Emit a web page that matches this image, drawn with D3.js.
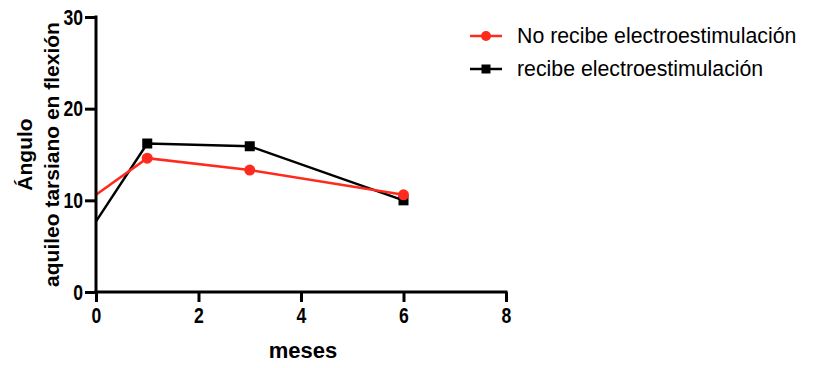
<!DOCTYPE html>
<html>
<head>
<meta charset="utf-8">
<script src="https://cdn.jsdelivr.net/npm/d3@7"></script>
<style>
  html, body { margin: 0; padding: 0; background: #fff; }
  svg { display: block; font-family: "Liberation Sans", Arial, Helvetica, sans-serif; }
</style>
</head>
<body>
<svg id="chart" width="814" height="368"></svg>
<script>
// Months of follow-up
const meses = [0, 1, 3, 6];
// Achilles–tarsal flexion angle per group
const noRecibe = [10.6, 14.6, 13.3, 10.6];
const recibe = [7.7, 16.2, 15.9, 10.0];
const seriesNames = ["No recibe electroestimulación", "recibe electroestimulación"];
const xTicks = [0, 2, 4, 6, 8];
const yTicks = [0, 10, 20, 30];

const RED = "#ff2a1e";
const BLACK = "#000";

const svg = d3.select("#chart");
const margin = { left: 96, top: 17, right: 308, bottom: 76 };
const W = 814, H = 368;

const x = d3.scaleLinear().domain([0, 8]).range([margin.left, W - margin.right]);
const y = d3.scaleLinear().domain([0, 30]).range([H - margin.bottom, margin.top]);

const series = [
  { name: seriesNames[0], values: noRecibe, color: RED, shape: "circle" },
  { name: seriesNames[1], values: recibe, color: BLACK, shape: "square" }
];

// clip the data to the plotting area (right of the y axis)
svg.append("defs").append("clipPath").attr("id", "plot")
  .append("rect")
  .attr("x", margin.left).attr("y", 0)
  .attr("width", W - margin.right - margin.left + 20)
  .attr("height", H - margin.bottom);

const line = d3.line().x((d, i) => x(meses[i])).y(d => y(d));

const plot = svg.append("g").attr("clip-path", "url(#plot)");

function drawMarker(g, shape, cx, cy, size, color) {
  if (shape === "circle") {
    g.append("circle").attr("cx", cx).attr("cy", cy).attr("r", size).attr("fill", color);
  } else {
    g.append("rect").attr("x", cx - size).attr("y", cy - size)
      .attr("width", size * 2).attr("height", size * 2).attr("fill", color);
  }
}

// draw black group first, red on top
[series[1], series[0]].forEach(s => {
  plot.append("path").datum(s.values)
    .attr("d", line)
    .attr("fill", "none")
    .attr("stroke", s.color)
    .attr("stroke-width", 2.5)
    .attr("stroke-linejoin", "miter");
});
[series[1], series[0]].forEach(s => {
  // the baseline reading sits on the axis, its marker is hidden behind it
  s.values.forEach((v, i) => {
    if (meses[i] === 0) return;
    drawMarker(plot, s.shape, x(meses[i]), y(v), s.shape === "circle" ? 5.5 : 5, s.color);
  });
});

// axes
const xAxis = svg.append("g")
  .attr("transform", `translate(0,${y(0)})`)
  .call(d3.axisBottom(x).tickValues(xTicks).tickSize(10).tickPadding(5).tickFormat(d3.format("d")));
const yAxis = svg.append("g")
  .attr("transform", `translate(${x(0)},0)`)
  .call(d3.axisLeft(y).tickValues(yTicks).tickSize(11).tickPadding(2).tickFormat(d3.format("d")));

[xAxis, yAxis].forEach(a => {
  a.select(".domain").attr("stroke", BLACK).attr("stroke-width", 3).attr("stroke-linecap", "square");
  a.selectAll(".tick line").attr("stroke", BLACK).attr("stroke-width", 3);
  a.selectAll(".tick text")
    .attr("fill", BLACK)
    .style("font-size", "22px")
    .style("font-weight", "bold")
    .style("font-family", "'Liberation Sans', Arial, sans-serif")
    // condensed digits
    .each(function () {
      const w = this.getComputedTextLength();
      d3.select(this).attr("textLength", w * 0.8).attr("lengthAdjust", "spacingAndGlyphs");
    });
});
// axis lines without outer tick stubs
xAxis.select(".domain").attr("d", `M${x(0)},0H${x(8)}`);
yAxis.select(".domain").attr("d", `M0,${y(0)}V${y(30)}`);

// axis titles
svg.append("text")
  .attr("x", (x(0) + x(8)) / 2 + 2)
  .attr("y", 358)
  .attr("text-anchor", "middle")
  .style("font-size", "22px")
  .style("font-weight", "bold")
  .text("meses");

const yTitle = svg.append("text")
  .attr("transform", `translate(0,${(y(0) + y(30)) / 2}) rotate(-90)`)
  .attr("text-anchor", "middle")
  .style("font-size", "21px")
  .style("font-weight", "bold");
yTitle.append("tspan").attr("x", 0).attr("y", 32).text("Ángulo");
yTitle.append("tspan").attr("x", 0).attr("y", 59).text("aquileo tarsiano en flexión");

// legend
const legend = svg.append("g");
series.forEach((s, i) => {
  const ly = 36 + i * 33;
  legend.append("line")
    .attr("x1", 470).attr("x2", 502).attr("y1", ly).attr("y2", ly)
    .attr("stroke", s.color).attr("stroke-width", 2.5);
  drawMarker(legend, s.shape, 486, ly, s.shape === "circle" ? 5 : 4.5, s.color);
  legend.append("text")
    .attr("x", 517).attr("y", ly)
    .attr("dy", "0.35em")
    .style("font-size", "21.3px")
    .attr("fill", BLACK)
    .text(s.name);
});
</script>
</body>
</html>
